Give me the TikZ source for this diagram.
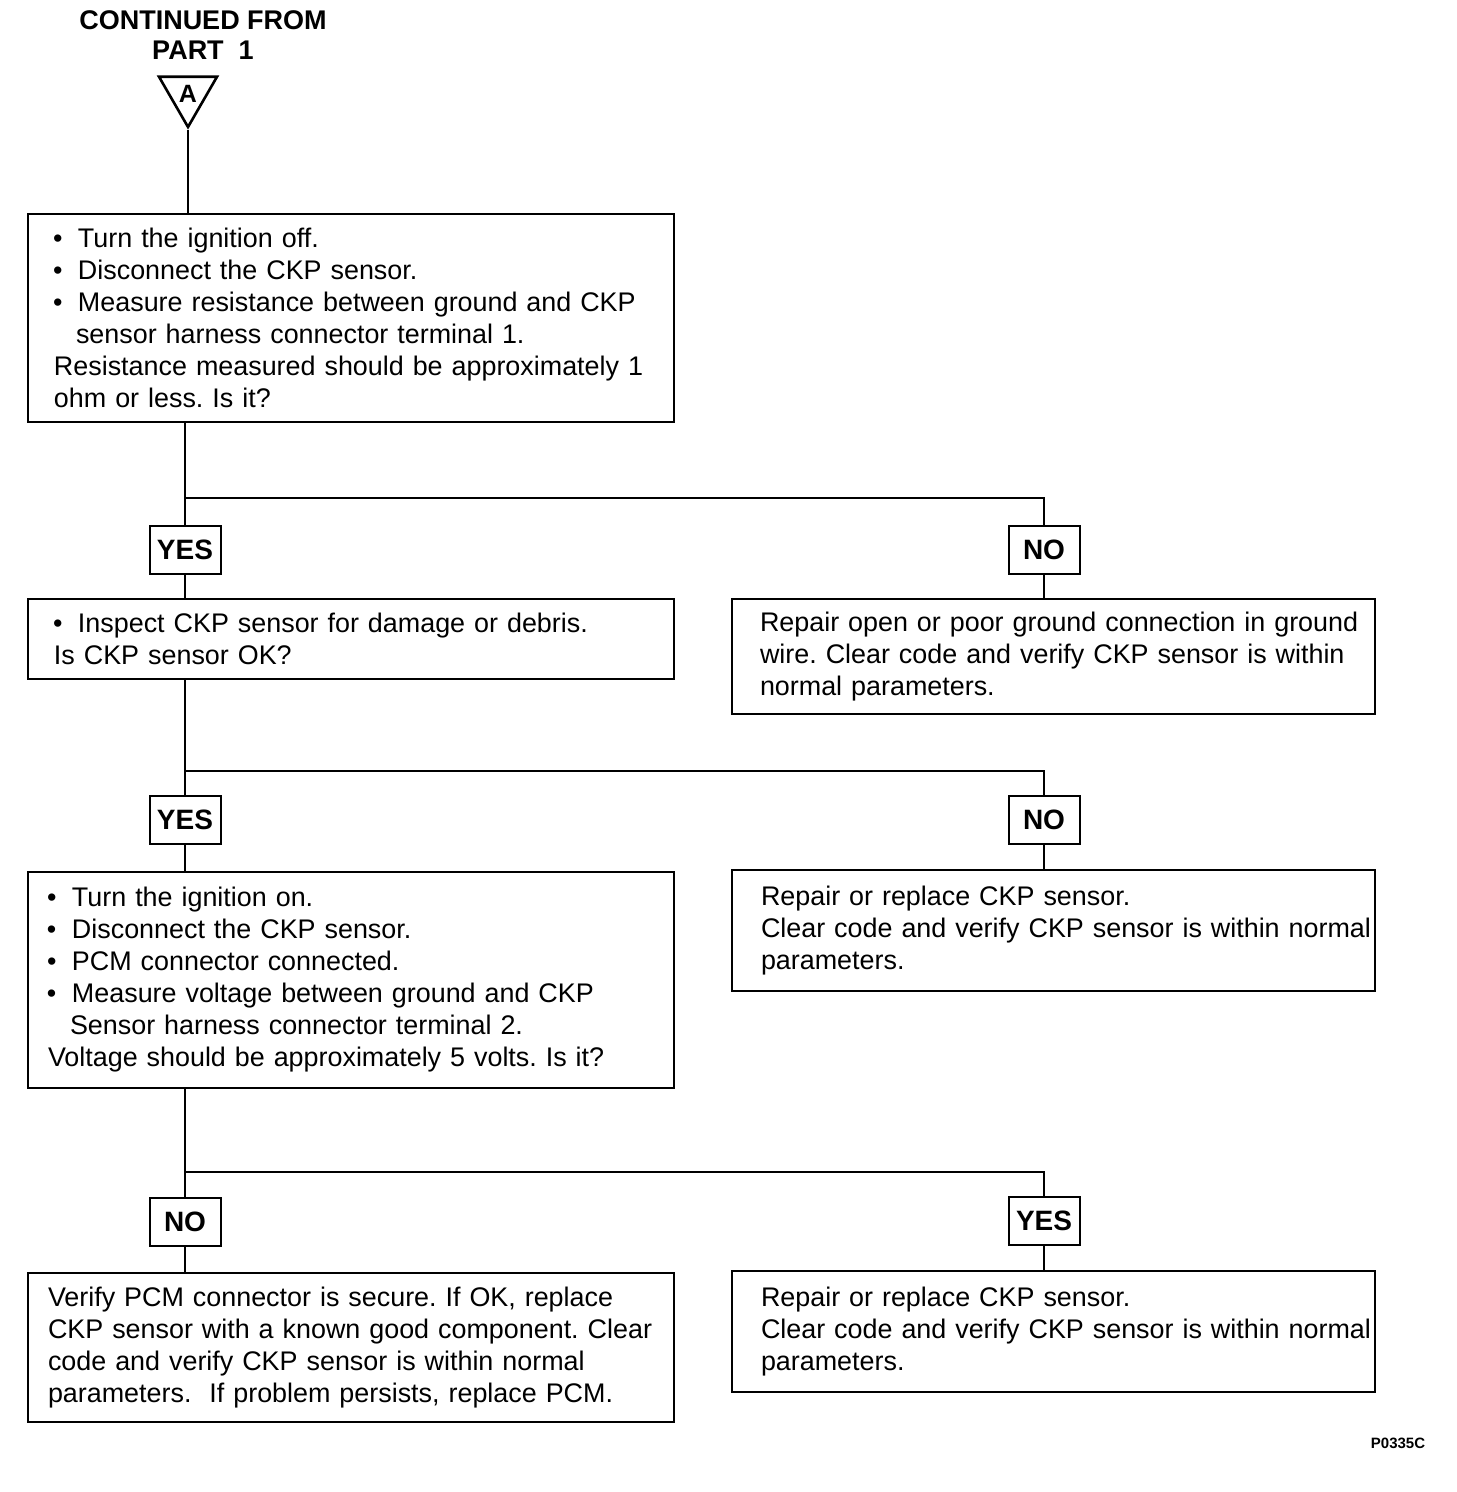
\documentclass[tikz,border=0pt]{standalone}
\usepackage{fontspec}
\setmainfont{Liberation Sans}
\usetikzlibrary{shapes.geometric}

\newcommand{\bulletmark}{\makebox[12pt][l]{\hspace*{-0.5pt}\textbullet}}
\newcommand{\contindent}{\hspace*{11pt}}
\frenchspacing
\hyphenpenalty=10000

\begin{document}
\begin{tikzpicture}[
  x=0.5pt,
  y=-0.5pt,
  every node/.style={font=\fontsize{13.45}{16}\selectfont},
  leftbox/.style={draw,line width=1pt,anchor=north west,inner sep=0pt,align=left,text width=323pt},
  rightbox/.style={draw,line width=1pt,anchor=north west,inner sep=0pt,align=left,text width=321.5pt},
  answer/.style={draw,line width=1pt,inner sep=0pt,minimum width=35.5pt,minimum height=24pt,font=\fontsize{14}{16}\bfseries\selectfont},
  offpage/.style={draw,regular polygon,regular polygon sides=3,shape border rotate=180,line width=1.3pt,minimum size=33.5pt,inner sep=0pt,font=\fontsize{12.5}{13}\bfseries\selectfont},
  link/.style={line width=1.4pt}
]
\useasboundingbox (0,0) rectangle (1456,1492);

% entry from part 1
\node[font=\fontsize{13.5}{15}\bfseries\selectfont,align=center] (title) at (203,35) {CONTINUED FROM\\PART\ \ 1};
\node[offpage] (partA) at (188,93.5) {A};

% ground circuit check
\node[leftbox,minimum height=104pt] (check1) at (27,213) {\leftskip=13pt\relax
\bulletmark Turn the ignition off.\\
\bulletmark Disconnect the CKP sensor.\\
\bulletmark Measure resistance between ground and CKP\\
\contindent sensor harness connector terminal 1.\\
Resistance measured should be approximately 1\\
ohm or less. Is it?\par};

\node[answer] (yes1) at (185,550) {YES};
\node[answer] (no1) at (1044,550) {NO};

\node[leftbox,minimum height=40pt] (check2) at (27,598) {\leftskip=13pt\relax
\bulletmark Inspect CKP sensor for damage or debris.\\
Is CKP sensor OK?\par};
\node[rightbox,minimum height=57.5pt] (repair1) at (731,598) {\leftskip=14pt\relax
Repair open or poor ground connection in ground\\
wire. Clear code and verify CKP sensor is within\\
normal parameters.\par};

\node[answer] (yes2) at (185,820) {YES};
\node[answer] (no2) at (1044,820) {NO};

% reference voltage check
\node[leftbox,minimum height=108pt] (check3) at (27,871) {\leftskip=10pt\relax
\bulletmark Turn the ignition on.\\
\bulletmark Disconnect the CKP sensor.\\
\bulletmark PCM connector connected.\\
\bulletmark Measure voltage between ground and CKP\\
\contindent Sensor harness connector terminal 2.\\
Voltage should be approximately 5 volts. Is it?\par};
\node[rightbox,minimum height=60.5pt] (repair2) at (731,869) {\leftskip=14.5pt\relax
Repair or replace CKP sensor.\\
Clear code and verify CKP sensor is within normal\\
parameters.\par};

\node[answer] (no3) at (185,1222) {NO};
\node[answer] (yes3) at (1044,1221) {YES};

\node[leftbox,minimum height=74.5pt] (verify) at (27,1272) {\leftskip=10pt\relax
Verify PCM connector is secure. If OK, replace\\
CKP sensor with a known good component. Clear\\
code and verify CKP sensor is within normal\\
parameters.\ \ If problem persists, replace PCM.\par};
\node[rightbox,minimum height=60.5pt] (repair3) at (731,1270) {\leftskip=14.5pt\relax
Repair or replace CKP sensor.\\
Clear code and verify CKP sensor is within normal\\
parameters.\par};

\node[font=\fontsize{7.5}{8}\bfseries\selectfont] (figref) at (1398,1443) {P0335C};

% branch points
\coordinate (split1) at (185,498);
\coordinate (split2) at (185,771);
\coordinate (split3) at (185,1172);

% connectors
\draw[link] (partA.corner 1) -- (partA.corner 1 |- check1.north);
\draw[link] (yes1.north |- check1.south) -- (yes1.north);
\draw[link] (split1) -| (no1.north);
\draw[link] (yes1.south) -- (yes1.south |- check2.north);
\draw[link] (no1.south) -- (no1.south |- repair1.north);

\draw[link] (yes2.north |- check2.south) -- (yes2.north);
\draw[link] (split2) -| (no2.north);
\draw[link] (yes2.south) -- (yes2.south |- check3.north);
\draw[link] (no2.south) -- (no2.south |- repair2.north);

\draw[link] (no3.north |- check3.south) -- (no3.north);
\draw[link] (split3) -| (yes3.north);
\draw[link] (no3.south) -- (no3.south |- verify.north);
\draw[link] (yes3.south) -- (yes3.south |- repair3.north);
\end{tikzpicture}
\end{document}
